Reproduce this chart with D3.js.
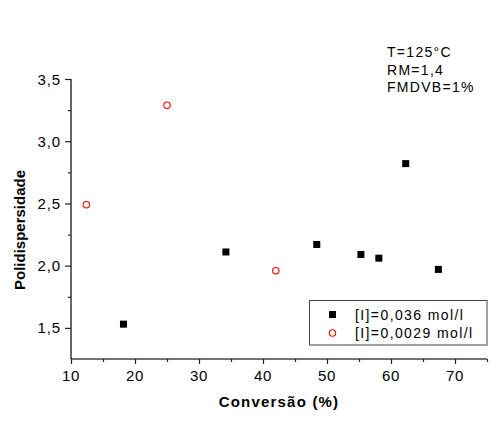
<!DOCTYPE html>
<html><head><meta charset="utf-8">
<script src="https://cdn.jsdelivr.net/npm/d3@7"></script>
<style>body{margin:0;background:#fff}svg{display:block}text{font-family:"Liberation Sans",Arial,sans-serif;fill:#000}</style>
</head><body><svg id="c" width="490" height="423"></svg>
<script>
const seriesNames = ["[I]=0,036 mol/l", "[I]=0,0029 mol/l"];
const conv036 = [18.2, 34.2, 48.4, 55.3, 58.1, 62.3, 67.4];
const pd036   = [1.53, 2.11, 2.17, 2.09, 2.06, 2.82, 1.97];
const conv0029 = [12.4, 25.0, 42.0];
const pd0029   = [2.49, 3.29, 1.96];
const xTicks = [10, 20, 30, 40, 50, 60, 70];
const yTicks = [1.5, 2.0, 2.5, 3.0, 3.5];
const notes = ["T=125°C", "RM=1,4", "FMDVB=1%"];

const svg = d3.select("#c");
const x = d3.scaleLinear().domain([10, 75]).range([71, 487]);
const y = d3.scaleLinear().domain([1.25, 3.5]).range([359, 79]);
const fmt = d => d3.format(".1f")(d).replace(".", ",");

// x axis
const gx = svg.append("g").attr("transform", "translate(0,359)");
gx.call(d3.axisBottom(x).tickValues(d3.range(10, 76, 5)).tickSize(3).tickFormat(""));
gx.call(g => g.selectAll(".tick line").attr("stroke", "#222").attr("stroke-width", 1.2).attr("y2", d => d % 10 === 0 ? 5 : 3));
gx.select(".domain").attr("stroke", "#444").attr("stroke-width", 1.6).attr("d", "M71,0H487");
gx.selectAll(".tick text").remove();
svg.append("g").selectAll("text").data(xTicks).join("text")
  .attr("x", d => x(d)).attr("y", 381).attr("text-anchor", "middle")
  .attr("font-size", 15).attr("letter-spacing", 0.6).attr("fill", "#111").text(d => d);

// y axis
const gy = svg.append("g").attr("transform", "translate(71,0)");
gy.call(d3.axisLeft(y).tickValues(d3.range(1.5, 3.51, 0.25)).tickSize(6).tickFormat(""));
gy.call(g => g.selectAll(".tick line").attr("stroke", "#222").attr("stroke-width", 1.2).attr("x2", d => Math.abs(d*2 - Math.round(d*2)) < 1e-6 ? -6 : -3));
gy.select(".domain").attr("stroke", "#000").attr("stroke-width", 1.2).attr("d", "M0,79V359");
svg.append("g").selectAll("text").data(yTicks).join("text")
  .attr("x", 61).attr("y", d => y(d) + 5.5).attr("text-anchor", "end")
  .attr("font-size", 15).attr("letter-spacing", 0.9).attr("fill", "#111").text(fmt);

// titles
svg.append("text").attr("x", 279).attr("y", 407).attr("text-anchor", "middle")
  .attr("font-size", 15).attr("font-weight", "bold").attr("letter-spacing", 1.2).text("Conversão (%)");
svg.append("text").attr("transform", "translate(25,230) rotate(-90)").attr("text-anchor", "middle")
  .attr("font-size", 15).attr("font-weight", "bold").text("Polidispersidade");

// data
const d036 = conv036.map((c, i) => [c, pd036[i]]);
const d0029 = conv0029.map((c, i) => [c, pd0029[i]]);
svg.append("g").selectAll("rect").data(d036).join("rect")
  .attr("x", d => x(d[0]) - 3.5).attr("y", d => y(d[1]) - 3.5).attr("width", 7).attr("height", 7).attr("fill", "#000");
svg.append("g").selectAll("circle").data(d0029).join("circle")
  .attr("cx", d => x(d[0])).attr("cy", d => y(d[1])).attr("r", 3.2)
  .attr("fill", "none").attr("stroke", "#f00").attr("stroke-width", 1.1);

// annotation
svg.append("g").selectAll("text").data(notes).join("text")
  .attr("x", 387).attr("y", (d, i) => 57 + i * 17.5)
  .attr("font-size", 14).attr("letter-spacing", 1.3).text(d => d);

// legend
const lg = svg.append("g");
lg.append("rect").attr("x", 309.5).attr("y", 300.5).attr("width", 177.5).attr("height", 44.5)
  .attr("fill", "#fff").attr("stroke", "#444").attr("stroke-width", 1);
lg.append("rect").attr("x", 329).attr("y", 311).attr("width", 7).attr("height", 7).attr("fill", "#000");
lg.append("circle").attr("cx", 332.5).attr("cy", 333).attr("r", 3.2).attr("fill", "none").attr("stroke", "#f00").attr("stroke-width", 1.1);
lg.selectAll("text.l").data(seriesNames).join("text").attr("class", "l")
  .attr("x", 355).attr("y", (d, i) => 319.5 + i * 18.5)
  .attr("font-size", 14).attr("letter-spacing", 1.4).text(d => d);
</script></body></html>
